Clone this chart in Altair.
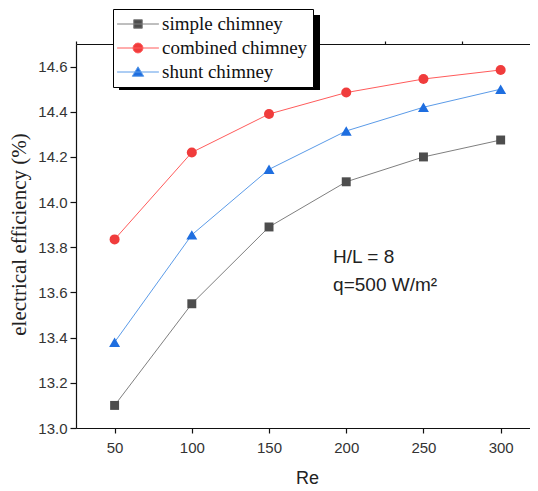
import altair as alt
import pandas as pd

re_vals = [50, 100, 150, 200, 250, 300]
simple = [13.10, 13.55, 13.89, 14.09, 14.20, 14.275]
combined = [13.835, 14.22, 14.39, 14.485, 14.545, 14.585]
shunt = [13.38, 13.855, 14.145, 14.315, 14.42, 14.50]

series_names = ["simple chimney", "combined chimney", "shunt chimney"]
line_colors = ["#7f7f7f", "#ff5b5b", "#5b9be8"]
marker_colors = ["#4d4d4d", "#f03c3c", "#1e6ee0"]
marker_shapes = ["square", "circle", "triangle-up"]
marker_sizes = [80, 100, 120]
legend_paths = [
    "M-2.2,0H2.2M-0.45,-0.45H0.45V0.45H-0.45Z",
    "M-2.2,0H2.2M0.52,0A0.52,0.52 0 1 1 -0.52,0A0.52,0.52 0 1 1 0.52,0Z",
    "M-2.2,0H2.2M0,-0.55L0.6,0.45H-0.6Z",
]

x_major = [50, 100, 150, 200, 250, 300]
x_minor = [25, 75, 125, 175, 225, 275]
y_major = [13.0, 13.2, 13.4, 13.6, 13.8, 14.0, 14.2, 14.4, 14.6]
y_minor = [13.1, 13.3, 13.5, 13.7, 13.9, 14.1, 14.3, 14.5, 14.7]

note_lines = ["H/L = 8", "q=500 W/m²"]
note_x = [191.5, 191.5]
note_y = [13.729, 13.606]

rows = []
for name, vals in zip(series_names, [simple, combined, shunt]):
    for r, v in zip(re_vals, vals):
        rows.append({"Re": r, "eff": v, "series": name})
df = pd.DataFrame(rows)

xscale = alt.Scale(domain=[25, 319], nice=False, zero=False)
yscale = alt.Scale(domain=[13.0, 14.7], nice=False, zero=False)

lines = alt.Chart(df).mark_line(strokeWidth=1).encode(
    x=alt.X("Re:Q", scale=xscale, axis=alt.Axis(
        values=x_major, tickSize=5, labelPadding=7, title="Re",
        titleX=231, titleY=55, titleBaseline="alphabetic", titleAlign="center",
        titleFont="Liberation Sans", titleFontSize=18, titleFontWeight="normal",
        titleColor="#222")),
    y=alt.Y("eff:Q", scale=yscale, axis=alt.Axis(
        values=y_major, format=".1f", tickSize=6, labelPadding=3,
        title="electrical efficiency (%)", titleX=-51, titleY=190,
        titleBaseline="alphabetic", titleAlign="center", titleAngle=270,
        titleFont="Liberation Serif", titleFontSize=21, titleFontWeight="normal",
        titleColor="#222")),
    color=alt.Color("series:N", scale=alt.Scale(domain=series_names, range=line_colors), legend=None),
    order="Re:Q",
)

point_layers = []
for i, (name, col, shp, sz) in enumerate(zip(series_names, marker_colors, marker_shapes, marker_sizes)):
    if i == 0:
        xa = alt.Axis(values=x_minor, tickSize=3, labels=False, domain=False, title=None)
        ya = alt.Axis(values=y_minor, tickSize=4, labels=False, domain=False, title=None)
    else:
        xa = None
        ya = None
    point_layers.append(
        alt.Chart(df).transform_filter(alt.datum.series == name)
        .mark_point(filled=True, opacity=1, shape=shp, size=sz, color=col)
        .encode(
            x=alt.X("Re:Q", scale=xscale, axis=xa),
            y=alt.Y("eff:Q", scale=yscale, axis=ya),
        )
    )

leg = alt.Legend(
    title=None, orient="none", legendX=37, legendY=-35,
    labelFont="Liberation Serif", labelFontSize=19, labelColor="#111",
    strokeColor="black", fillColor="white", padding=5, rowPadding=4,
    symbolSize=361, symbolOffset=10, labelOffset=14, symbolStrokeWidth=1,
    symbolOpacity=1,
)
legend_layer = alt.Chart(df).mark_point(opacity=0, filled=False).encode(
    x=alt.X("Re:Q", scale=xscale, axis=alt.Axis(
        orient="top", ticks=False, labels=False, domain=True, title=None)),
    y=alt.Y("eff:Q", scale=yscale, axis=None),
    stroke=alt.Stroke("series:N", scale=alt.Scale(domain=series_names, range=line_colors), legend=leg),
    fill=alt.Fill("series:N", scale=alt.Scale(domain=series_names, range=marker_colors), legend=leg),
    shape=alt.Shape("series:N", scale=alt.Scale(domain=series_names, range=legend_paths), legend=leg),
)

notes_df = pd.DataFrame({"t": note_lines, "x": note_x, "y": note_y})
notes = alt.Chart(notes_df).mark_text(
    align="left", baseline="alphabetic", font="Liberation Sans", fontSize=19, color="#222"
).encode(
    x=alt.X("x:Q", scale=xscale, axis=None),
    y=alt.Y("y:Q", scale=yscale, axis=None),
    text="t:N",
)

shadow = alt.Chart(pd.DataFrame({"a": [0]})).mark_rect(color="black").encode(
    x=alt.value(43), x2=alt.value(244), y=alt.value(-29), y2=alt.value(46)
)

chart = alt.layer(shadow, lines, *point_layers, legend_layer, notes).resolve_scale(
    color="independent"
).resolve_axis(
    x="independent", y="independent"
).properties(
    width=454, height=384,
    autosize=alt.AutoSizeParams(type="none"),
    padding={"left": 68, "top": 36, "right": 0, "bottom": 60},
).configure_view(stroke=None).configure_axis(
    labelFont="Liberation Sans", labelFontSize=15, labelColor="#333",
    domainColor="#111", tickColor="#111", domainWidth=1.2, tickWidth=1.2, grid=False,
).configure_legend(
    labelFont="Liberation Serif", labelFontSize=19,
)

chart.save("out.html", embed_options={"renderer": "svg", "actions": False})
